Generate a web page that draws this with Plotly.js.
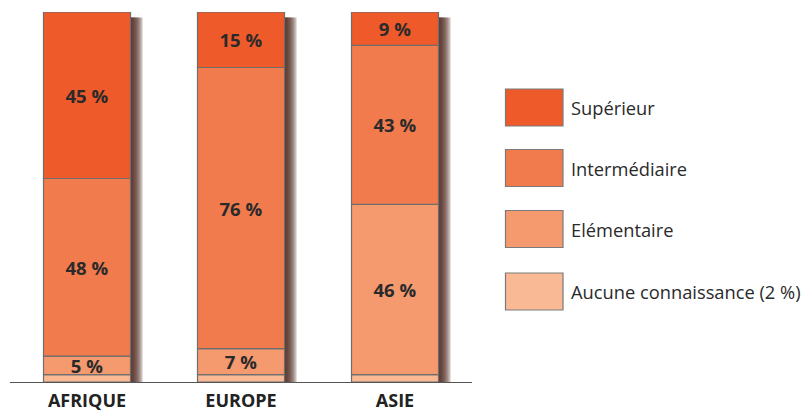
<!DOCTYPE html>
<html>
<head>
<meta charset="utf-8">
<script src="https://cdn.plot.ly/plotly-3.0.1.min.js"></script>
<style>
html,body{margin:0;padding:0;background:#fff;}
#chart{width:809px;height:412px;}
</style>
</head>
<body>
<div id="chart"></div>
<script>
const categories = ['AFRIQUE', 'EUROPE', 'ASIE'];
const seriesNames = ['Aucune connaissance (2 %)', 'Elémentaire', 'Intermédiaire', 'Supérieur'];
const aucune = [2, 2, 2];
const elementaire = [5, 7, 46];
const intermediaire = [48, 76, 43];
const superieur = [45, 15, 9];
const showLabel = [false, true, true, true];
const colors = ['#F9B995', '#F59A6E', '#F27B4D', '#EF5A2B'];

const series = [aucune, elementaire, intermediaire, superieur];

// stacking bases computed from the data
const bases = [];
let acc = categories.map(() => 0);
series.forEach(vals => { bases.push(acc.slice()); acc = acc.map((a, j) => a + vals[j]); });
const totals = acc;

const BARW = 0.565;           // bar width in category units
const PXU = 1 / 154;          // one pixel in category units

// soft drop shadow layers to the right of each bar
const shadowTraces = [2, 4, 6, 8, 10, 12].map(dx => ({
  type: 'bar',
  x: categories,
  y: totals.map(t => t - 1.5),
  base: 0,
  width: BARW,
  offset: -BARW / 2 + dx * PXU,
  marker: {color: 'rgba(75,35,25,0.3)', line: {width: 0}},
  hoverinfo: 'skip',
  showlegend: false
}));

const mainTraces = series.map((vals, i) => ({
  type: 'bar',
  name: seriesNames[i],
  x: categories,
  y: vals,
  base: bases[i],
  width: BARW,
  marker: {color: colors[i], line: {color: '#6e6e6e', width: 1.2}},
  text: showLabel[i] ? vals.map(v => v + ' %') : vals.map(() => ''),
  textposition: 'inside',
  insidetextanchor: 'middle',
  textangle: 0,
  textfont: {family: 'Open Sans', size: 18.5, color: '#2a2a2a', weight: 'bold'},
  hoverinfo: 'skip',
  showlegend: false
}));

// Legend (top to bottom: Supérieur ... Aucune)
const L = 10, W = 462, B = 382, H = 370;
const px = p => (p - L) / W;
const py = p => (B - p) / H;
const legendTops = [89, 149.5, 210.5, 273];
const shapes = [];
const annotations = [];
for (let k = 0; k < 4; k++) {
  const idx = 3 - k;
  const top = legendTops[k];
  shapes.push({
    type: 'rect', xref: 'paper', yref: 'paper',
    x0: px(505.5), x1: px(563), y0: py(top + 37), y1: py(top),
    fillcolor: colors[idx], line: {color: '#7a7a7a', width: 1.2}
  });
  annotations.push({
    xref: 'paper', yref: 'paper', x: px(569), y: py(top + 18.5),
    xanchor: 'left', yanchor: 'middle', showarrow: false,
    text: seriesNames[idx],
    font: {family: 'Open Sans', size: 18.3, color: '#2a2a2a'}
  });
}

const layout = {
  width: 809, height: 412,
  margin: {l: 10, r: 337, t: 12, b: 30},
  paper_bgcolor: '#fff', plot_bgcolor: '#fff',
  barmode: 'overlay',
  showlegend: false,
  uniformtext: {mode: 'show', minsize: 18.5},
  xaxis: {
    range: [-0.5, 2.5],
    showline: true, linecolor: '#555', linewidth: 1,
    ticks: '', showgrid: false, zeroline: false,
    ticklabelstandoff: 2,
    tickfont: {family: 'Open Sans', size: 18, color: '#222', weight: 'bold'}
  },
  yaxis: {
    range: [0, 100], visible: false, showgrid: false, zeroline: false
  },
  shapes: shapes,
  annotations: annotations
};

Plotly.newPlot('chart', shadowTraces.concat(mainTraces), layout, {displayModeBar: false, staticPlot: true});
</script>
</body>
</html>
